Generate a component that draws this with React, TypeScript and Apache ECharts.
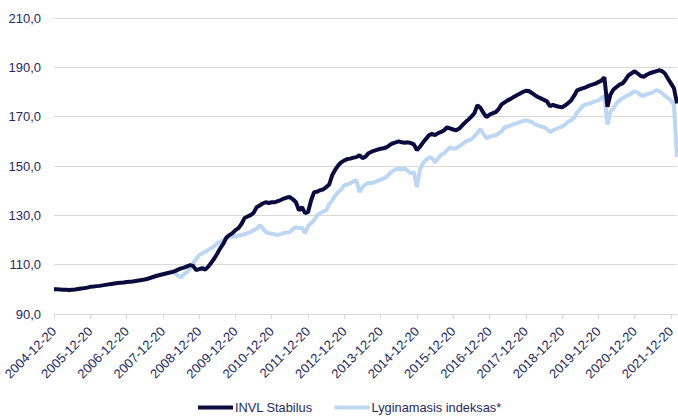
import React, { useEffect, useRef } from "react";
import * as echarts from "echarts";

// Monthly observations (20th of each month), 2004-12 .. 2022-02
const startYear = 2004;
const startMonth = 12;
const monthCount = 207;

const invlStabilus: number[] = [
  100.0,
  100.0, 99.9, 99.8, 99.8, 99.7, 99.8, 99.9, 100.1, 100.3, 100.5, 100.7, 101.0,
  101.1, 101.3, 101.4, 101.6, 101.8, 102.0, 102.2, 102.4, 102.6, 102.7, 102.8, 103.0,
  103.1, 103.2, 103.4, 103.6, 103.8, 104.0, 104.3, 104.7, 105.1, 105.5, 105.8, 106.1,
  106.4, 106.7, 107.0, 107.4, 108.0, 108.5, 108.8, 109.3, 109.8, 109.5, 107.8, 108.2,
  108.6, 108.0, 109.2, 110.8, 112.5, 114.5, 116.7, 118.5, 121.0, 122.0, 122.8, 124.0,
  124.8, 126.5, 128.9, 129.5, 130.1, 131.0, 133.3, 134.0, 134.8, 135.3, 135.0, 135.3,
  135.3, 135.8, 136.2, 136.8, 137.2, 137.4, 136.5, 135.3, 132.0, 133.3, 130.9, 131.3,
  136.0, 139.4, 139.6, 140.2, 140.5, 141.4, 142.5, 146.3, 148.5, 150.3, 151.5, 152.3,
  152.8, 153.0, 153.4, 153.6, 154.4, 153.2, 153.8, 155.2, 155.8, 156.2, 156.6, 157.0,
  157.2, 157.6, 158.5, 159.2, 159.6, 160.0, 159.6, 159.4, 159.6, 159.3, 158.8, 156.4,
  157.8, 159.5, 161.0, 162.5, 163.0, 162.5, 163.3, 163.8, 164.5, 165.7, 165.2, 164.8,
  164.5, 165.2, 166.5, 167.7, 168.8, 170.0, 171.4, 174.6, 173.6, 171.5, 169.8, 170.8,
  171.3, 171.8, 173.0, 175.0, 175.8, 176.6, 177.2, 178.0, 178.7, 179.3, 180.0, 180.5,
  180.4, 179.6, 178.7, 178.0, 177.4, 176.8, 176.2, 174.2, 174.8, 174.3, 174.0, 173.8,
  174.5, 175.5, 176.6, 178.5, 180.7, 181.2, 181.6, 182.0, 182.6, 183.0, 183.4, 184.0,
  184.6, 186.0, 174.0, 179.0, 181.0, 182.0, 183.0, 183.5, 185.0, 186.8, 187.6, 188.4,
  187.5, 186.5, 186.2, 187.0, 187.6, 188.0, 188.4, 188.8, 188.5, 187.5, 185.5, 183.5,
  181.5, 175.4,
];

// Benchmark starts in 2008-03 (month index 39)
const benchmarkStartIndex = 39;
const lyginamasisIndeksas: number[] = [
  107.0, 106.5, 105.5, 104.8, 106.2, 107.0, 108.5, 110.6, 112.2, 113.9,
  114.5, 115.2, 116.0, 116.8, 117.5, 118.7, 119.3, 120.0, 120.8, 121.0, 121.3, 121.5,
  121.8, 122.0, 122.4, 122.8, 123.2, 124.0, 124.5, 126.0, 124.8, 123.2, 122.8, 122.5,
  122.3, 122.0, 122.4, 122.8, 123.0, 123.2, 124.5, 125.2, 124.8, 125.0, 122.8, 125.5,
  126.8, 128.0, 130.0, 130.8, 131.5, 132.0, 134.5, 136.0, 138.0, 139.4, 140.5, 142.2,
  142.5, 143.0, 143.8, 144.2, 139.5, 141.5, 142.5, 143.2, 143.0, 143.5, 144.0, 144.5,
  145.0, 145.6, 147.0, 148.0, 148.6, 149.0, 148.5, 149.0, 148.0, 147.0, 147.5, 141.4,
  148.5, 151.1, 152.5, 153.5, 153.2, 151.5, 153.0, 154.5, 155.2, 156.5, 157.6, 157.0,
  157.2, 158.0, 158.8, 159.8, 160.4, 160.8, 162.0, 163.5, 165.0, 163.0, 161.3, 161.8,
  162.2, 162.5, 163.2, 164.0, 165.7, 166.0, 166.5, 167.0, 167.3, 167.8, 168.2, 168.5,
  168.2, 167.8, 167.0, 166.5, 166.0, 165.7, 165.0, 163.7, 164.5, 165.0, 165.5, 166.0,
  166.8, 168.0, 168.5, 169.5, 171.8, 173.0, 174.6, 175.0, 175.3, 175.8, 176.2, 176.6,
  177.5, 178.5, 166.8, 172.0, 173.4, 175.5, 176.6, 177.5, 178.2, 178.7, 179.5, 180.3,
  179.8, 178.7, 178.5, 179.0, 179.5, 179.8, 180.7, 180.5, 179.5, 178.5, 177.5, 176.6,
  174.6, 153.6,
];

const yTicks = { min: 90, max: 210, interval: 20 };
const seriesNames = ["INVL Stabilus", "Lyginamasis indeksas*"];

function buildCategories(): string[] {
  const out: string[] = [];
  let y = startYear;
  let m = startMonth;
  for (let i = 0; i < monthCount; i++) {
    out.push(`${y}-${String(m).padStart(2, "0")}-20`);
    m++;
    if (m > 12) {
      m = 1;
      y++;
    }
  }
  return out;
}

const TEXT = "#262a62";
const FONT = "'Liberation Sans', Arial, sans-serif";

export default function App() {
  const ref = useRef<HTMLDivElement>(null);

  useEffect(() => {
    if (!ref.current) return;
    const chart = echarts.init(ref.current, undefined, { renderer: "svg" });
    const categories = buildCategories();
    const benchmarkData: (number | string)[] = [];
    for (let i = 0; i < benchmarkStartIndex; i++) benchmarkData.push("-");
    lyginamasisIndeksas.forEach((v) => benchmarkData.push(v));
    const isYearTick = (_idx: number, val: string) => val.endsWith("-12-20");

    chart.setOption({
      animation: false,
      backgroundColor: "#ffffff",
      grid: { left: 54, right: 1, top: 18, bottom: 102 },
      legend: {
        left: 193,
        top: 396,
        icon: "rect",
        itemWidth: 35,
        itemHeight: 4,
        itemGap: 22,
        textStyle: { color: TEXT, fontFamily: FONT, fontSize: 12.8, padding: [0, 0, 0, -3] },
        data: seriesNames,
      },
      xAxis: {
        type: "category",
        data: categories,
        boundaryGap: false,
        axisLine: { show: true, lineStyle: { color: "#d9d9d9", width: 1 } },
        axisTick: { show: true, interval: isYearTick, length: 5, lineStyle: { color: "#d9d9d9" } },
        axisLabel: {
          interval: isYearTick,
          rotate: 45,
          color: TEXT,
          fontFamily: FONT,
          fontSize: 13,
          margin: 15,
        },
        splitLine: { show: false },
      },
      yAxis: {
        type: "value",
        min: yTicks.min,
        max: yTicks.max,
        interval: yTicks.interval,
        axisLine: { show: false },
        axisTick: { show: false },
        axisLabel: {
          color: TEXT,
          fontFamily: FONT,
          fontSize: 13,
          margin: 13,
          formatter: (v: number) => v.toFixed(1).replace(".", ","),
        },
        splitLine: { show: true, lineStyle: { color: "#d9d9d9", width: 1 } },
      },
      series: [
        {
          name: seriesNames[0],
          type: "line",
          data: invlStabilus,
          showSymbol: false,
          symbol: "none",
          z: 3,
          lineStyle: { color: "#0b0b3d", width: 4 },
          itemStyle: { color: "#0b0b3d" },
        },
        {
          name: seriesNames[1],
          type: "line",
          data: benchmarkData,
          showSymbol: false,
          symbol: "none",
          z: 2,
          lineStyle: { color: "#bdd7f2", width: 4 },
          itemStyle: { color: "#bdd7f2" },
        },
      ],
    });
    return () => chart.dispose();
  }, []);

  return (
    <div
      ref={ref}
      style={{ position: "fixed", left: 0, top: 0, width: 678, height: 416, background: "#fff" }}
    />
  );
}
